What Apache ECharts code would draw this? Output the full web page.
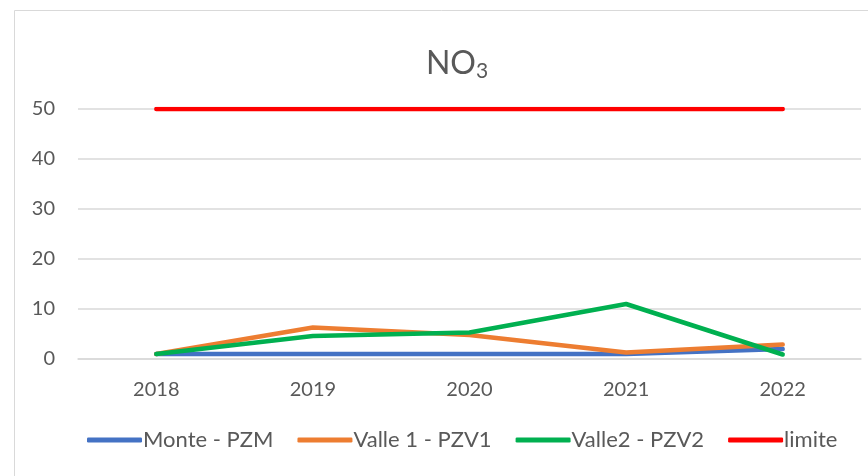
<!DOCTYPE html>
<html>
<head>
<meta charset="utf-8">
<script src="https://cdn.jsdelivr.net/npm/echarts@6/dist/echarts.min.js"></script>
<style>
  html, body { margin: 0; padding: 0; background: #fff; }
  #chart { width: 868px; height: 476px; }
</style>
</head>
<body>
<div id="chart"></div>
<script>
const years = ['2018', '2019', '2020', '2021', '2022'];
const monte = [1, 1, 1, 1, 2];
const valle1 = [1, 6.3, 4.8, 1.3, 2.9];
const valle2 = [1, 4.6, 5.3, 11, 0.9];
const limite = [50, 50, 50, 50, 50];

const myChart = echarts.init(document.getElementById('chart'));

const font = 'Lato, "Open Sans", sans-serif';

function lineSeries(name, data, color) {
  return {
    name: name,
    type: 'line',
    data: data,
    showSymbol: false,
    symbol: 'none',
    color: color,
    lineStyle: { width: 4.5, color: color, cap: 'round', join: 'round' },
  };
}

const option = {
  animation: false,
  textStyle: { fontFamily: font },
  graphic: [
    {
      type: 'rect',
      shape: { x: 14.5, y: 10.5, width: 900, height: 500 },
      style: { fill: 'none', stroke: '#d9d9d9', lineWidth: 1 },
      silent: true,
    },
  ],
  title: {
    text: 'NO{sub|3}',
    left: 452,
    top: 40,
    textAlign: 'center',
    textStyle: {
      fontFamily: font,
      fontSize: 32,
      fontWeight: 'normal',
      color: '#595959',
      rich: {
        sub: { fontFamily: font, fontSize: 21, color: '#595959', padding: [16, 0, 0, 0] },
      },
    },
  },
  legend: {
    bottom: 20,
    left: 82,
    icon: 'roundRect',
    itemWidth: 55,
    itemHeight: 5,
    itemGap: 24,
    textStyle: { fontFamily: font, fontSize: 22, color: '#595959', padding: [0, 0, 0, -4] },
    data: ['Monte - PZM', 'Valle 1 - PZV1', 'Valle2 - PZV2', 'limite'],
  },
  grid: { left: 78, right: 7, top: 109, bottom: 117 },
  xAxis: {
    type: 'category',
    data: years,
    boundaryGap: true,
    axisLine: { show: true, lineStyle: { color: '#d9d9d9', width: 1.5 } },
    axisTick: { show: false },
    axisLabel: { fontFamily: font, fontSize: 20, color: '#595959', margin: 21 },
  },
  yAxis: {
    type: 'value',
    min: 0,
    max: 50,
    interval: 10,
    axisLine: { show: false },
    axisTick: { show: false },
    axisLabel: { fontFamily: font, fontSize: 20, color: '#595959', margin: 23 },
    splitLine: { lineStyle: { color: '#d9d9d9', width: 1.5 } },
  },
  series: [
    lineSeries('Monte - PZM', monte, '#4472C4'),
    lineSeries('Valle 1 - PZV1', valle1, '#ED7D31'),
    lineSeries('Valle2 - PZV2', valle2, '#00B050'),
    lineSeries('limite', limite, '#FF0000'),
  ],
};

myChart.setOption(option);
</script>
</body>
</html>
